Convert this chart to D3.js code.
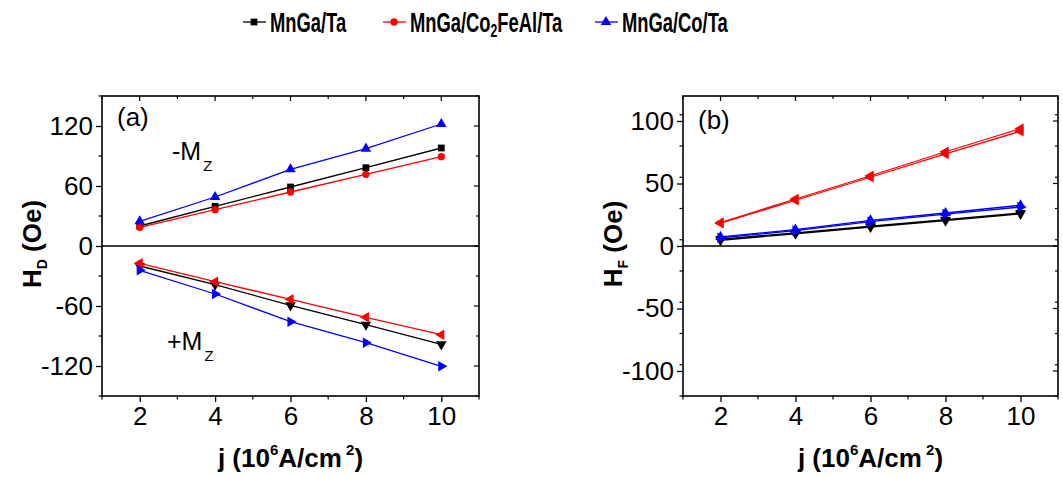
<!DOCTYPE html>
<html>
<head>
<meta charset="utf-8">
<script src="https://cdn.jsdelivr.net/npm/d3@7"></script>
<style>
  body { margin: 0; background: #fff; }
  svg { display: block; font-family: "Liberation Sans", Arial, sans-serif; }
</style>
</head>
<body>
<svg id="chart" width="1063" height="477"></svg>
<script>
// current density j (10^6 A/cm^2)
const jVals = [2, 4, 6, 8, 10];

// panel (a): H_D for -Mz (positive) and +Mz (negative)
const hdNegMzTa  = [20, 39.7, 59, 78.3, 98];
const hdNegMzCfa = [18.7, 36.3, 54, 71.7, 89.3];
const hdNegMzCo  = [24.7, 49, 76.7, 97.3, 122];
const hdPosMzTa  = [-20, -38.7, -59.3, -78.7, -98.3];
const hdPosMzCfa = [-17.3, -35.7, -53.3, -71.3, -88.7];
const hdPosMzCo  = [-24.3, -48, -75.7, -96.7, -120.3];

// panel (b): H_F, two nearly overlapping curves per stack
const hfTaA  = [5.5, 10.5, 15.8, 21, 26.4];
const hfTaB  = [4.6, 9.8, 15.2, 20.3, 25.6];
const hfCfaA = [18.7, 37.6, 56.2, 75.4, 93.9];
const hfCfaB = [18.3, 36.6, 55, 73.7, 91.8];
const hfCoA  = [7.3, 13.1, 20.5, 26.4, 32.6];
const hfCoB  = [6.6, 12.3, 19.5, 25.5, 31.2];

const xTicks = [2, 4, 6, 8, 10];
const yTicksA = [-120, -60, 0, 60, 120];
const yTicksB = [-100, -50, 0, 50, 100];

const colors = { ta: "#000000", cfa: "#ff0000", co: "#0000ff" };

const svg = d3.select("#chart");

function markerPath(shape) {
    if (shape === "square") return d3.symbol().type(d3.symbolSquare).size(46)();
    if (shape === "circle") return d3.symbol().type(d3.symbolCircle).size(42)();
    return d3.symbol().type(d3.symbolTriangle).size(48)();
}
function markerRot(shape) {
    return { down: 180, left: -90, right: 90 }[shape] || 0;
}

function drawPanel(cfg) {
    const x = d3.scaleLinear().domain([1, 11]).range([cfg.left, cfg.right]);
    const y = d3.scaleLinear().domain(cfg.yDomain).range([396, 96]);
    const g = svg.append("g");

    const minorX = d3.range(1, 12, 2);
    const minorY = d3.range(cfg.yDomain[0], cfg.yDomain[1] + 1, cfg.yStep / 2)
        .filter(v => !cfg.yTicks.includes(v));

    // bottom / left axes, ticks outward
    const bottom = g.append("g").attr("transform", `translate(0,396)`)
        .call(d3.axisBottom(x).tickValues(xTicks).tickSize(6).tickPadding(5).tickSizeOuter(0));
    const left = g.append("g").attr("transform", `translate(${cfg.left},0)`)
        .call(d3.axisLeft(y).tickValues(cfg.yTicks).tickSize(6).tickPadding(3).tickSizeOuter(0));
    [bottom, left].forEach(a => {
        a.select(".domain").remove();
        a.selectAll("text").attr("font-size", 26).attr("fill", "#000")
            .attr("font-family", "'Liberation Sans', Arial, sans-serif");
        a.selectAll("line").attr("stroke-width", 1.3);
    });
    left.selectAll("text").text(d => d < 0 ? "-" + Math.abs(d) : d);

    // minor ticks and mirrored inward ticks on top/right
    g.selectAll(".mxb").data(minorX).enter().append("line")
        .attr("x1", d => x(d)).attr("x2", d => x(d)).attr("y1", 396).attr("y2", 399.5)
        .attr("stroke", "#000").attr("stroke-width", 1.2);
    g.selectAll(".myl").data(minorY).enter().append("line")
        .attr("x1", cfg.left - 3.5).attr("x2", cfg.left).attr("y1", d => y(d)).attr("y2", d => y(d))
        .attr("stroke", "#000").attr("stroke-width", 1.2);
    g.selectAll(".xt").data(xTicks.concat(minorX)).enter().append("line")
        .attr("x1", d => x(d)).attr("x2", d => x(d)).attr("y1", 96)
        .attr("y2", d => 96 + (xTicks.includes(d) ? 5 : 3))
        .attr("stroke", "#000").attr("stroke-width", 1.2);
    g.selectAll(".yt").data(cfg.yTicks.concat(minorY)).enter().append("line")
        .attr("x1", cfg.right).attr("x2", d => cfg.right - (cfg.yTicks.includes(d) ? 5 : 3))
        .attr("y1", d => y(d)).attr("y2", d => y(d))
        .attr("stroke", "#000").attr("stroke-width", 1.2);

    // frame and zero line
    g.append("rect").attr("x", cfg.left).attr("y", 96)
        .attr("width", cfg.right - cfg.left).attr("height", 300)
        .attr("fill", "none").attr("stroke", "#000").attr("stroke-width", 1.6);
    g.append("line").attr("x1", cfg.left).attr("x2", cfg.right)
        .attr("y1", y(0)).attr("y2", y(0)).attr("stroke", "#000").attr("stroke-width", 1.5);

    // series
    const line = d3.line().x(d => x(d[0])).y(d => y(d[1]));
    cfg.series.forEach(s => {
        const pts = jVals.map((j, i) => [j, s.values[i]]);
        g.append("path").datum(pts).attr("d", line)
            .attr("fill", "none").attr("stroke", s.color).attr("stroke-width", 1.3);
        g.selectAll(null).data(pts).enter().append("path")
            .attr("d", markerPath(s.shape))
            .attr("transform", d => `translate(${x(d[0])},${y(d[1])}) rotate(${markerRot(s.shape)})`)
            .attr("fill", s.color);
    });

    // panel label
    g.append("text").attr("x", cfg.left + 15).attr("y", cfg.tagY)
        .attr("font-size", 26).text(cfg.tag);

    // y label
    const yl = g.append("text")
        .attr("transform", `translate(${cfg.left - 61},${244}) rotate(-90)`)
        .attr("text-anchor", "middle").attr("font-size", 26).attr("font-weight", "bold");
    yl.append("tspan").text("H");
    yl.append("tspan").attr("font-size", 14).attr("dy", 6).text(cfg.sub);
    yl.append("tspan").attr("dy", -6).text(" (Oe)");

    // x label
    const xl = g.append("text").attr("x", (cfg.left + cfg.right) / 2).attr("y", 467)
        .attr("text-anchor", "middle").attr("font-size", 26).attr("font-weight", "bold");
    xl.append("tspan").text("j (10");
    xl.append("tspan").attr("font-size", 15).attr("dy", -12).text("6");
    xl.append("tspan").attr("dy", 12).text("A/cm");
    xl.append("tspan").attr("font-size", 15).attr("dy", -12).text(" 2");
    xl.append("tspan").attr("dy", 12).text(")");

    return { x, y, g };
}

drawPanel({
    left: 102, right: 479, yDomain: [-150, 150], yStep: 60, yTicks: yTicksA,
    tag: "(a)", tagY: 126, sub: "D",
    series: [
        { values: hdNegMzTa,  color: colors.ta,  shape: "square" },
        { values: hdNegMzCfa, color: colors.cfa, shape: "circle" },
        { values: hdNegMzCo,  color: colors.co,  shape: "up" },
        { values: hdPosMzTa,  color: colors.ta,  shape: "down" },
        { values: hdPosMzCfa, color: colors.cfa, shape: "left" },
        { values: hdPosMzCo,  color: colors.co,  shape: "right" }
    ]
});

drawPanel({
    left: 683, right: 1058, yDomain: [-120, 120], yStep: 50, yTicks: yTicksB,
    tag: "(b)", tagY: 129, sub: "F",
    series: [
        { values: hfTaA,  color: colors.ta,  shape: "down" },
        { values: hfTaB,  color: colors.ta,  shape: "down" },
        { values: hfCfaA, color: colors.cfa, shape: "left" },
        { values: hfCfaB, color: colors.cfa, shape: "left" },
        { values: hfCoA,  color: colors.co,  shape: "up" },
        { values: hfCoB,  color: colors.co,  shape: "right" }
    ]
});

// -Mz / +Mz annotations in panel (a)
[["-M", 172, 160], ["+M", 167, 350]].forEach(([t, tx, ty]) => {
    const a = svg.append("text").attr("x", tx).attr("y", ty).attr("font-size", 25);
    a.append("tspan").text(t);
    a.append("tspan").attr("font-size", 15).attr("dy", 11).attr("dx", 2).text("Z");
});

// legend
const legendItems = [
    { x: 243, color: colors.ta,  shape: "square", parts: [["MnGa/Ta", 0]] },
    { x: 383, color: colors.cfa, shape: "circle", parts: [["MnGa/Co", 0], ["2", 1], ["FeAl/Ta", 0]] },
    { x: 595, color: colors.co,  shape: "up",     parts: [["MnGa/Co/Ta", 0]] }
];
legendItems.forEach(it => {
    const lg = svg.append("g").attr("transform", `translate(${it.x},22)`);
    lg.append("line").attr("x1", 0).attr("x2", 23).attr("stroke", it.color).attr("stroke-width", 1.3);
    lg.append("path").attr("d", markerPath(it.shape)).attr("transform", "translate(11,0)")
        .attr("fill", it.color);
    const t = lg.append("text").attr("transform", "translate(27,10) scale(0.68,1)")
        .attr("font-size", 27).attr("font-weight", "bold");
    let prevSub = 0;
    it.parts.forEach(([s, sub]) => {
        t.append("tspan").attr("font-size", sub ? 18 : 27)
            .attr("dy", sub ? 5 : (prevSub ? -5 : 0)).text(s);
        prevSub = sub;
    });
});
</script>
</body>
</html>
